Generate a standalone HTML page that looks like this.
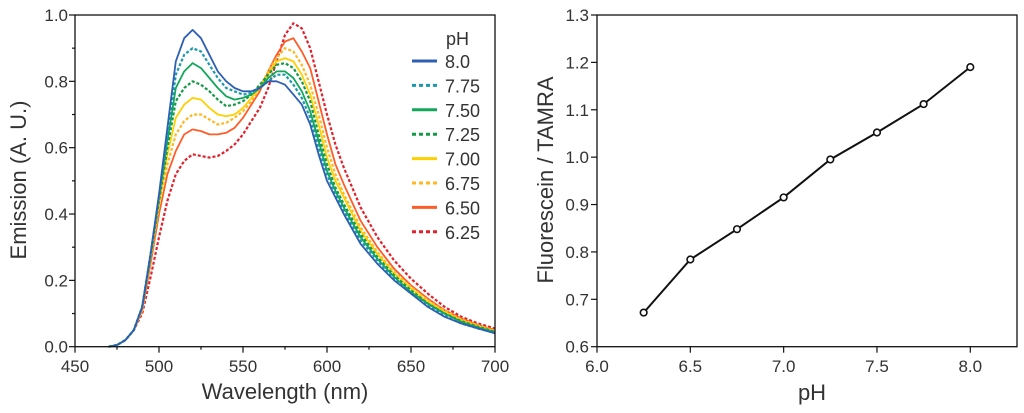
<!DOCTYPE html>
<html><head><meta charset="utf-8"><style>
body{margin:0;background:#fff;width:1024px;height:413px;overflow:hidden}
svg{display:block}
text{font-family:"Liberation Sans",sans-serif;fill:#333}
</style></head><body>
<svg id="svg" width="1024" height="413"></svg>
<script>
const wavelengths=[470,475,480,485,490,495,500,505,510,515,520,525,530,535,540,545,550,555,560,565,570,575,580,585,590,595,600,605,610,620,630,640,650,660,670,680,690,700];
const phLabels=["8.0","7.75","7.50","7.25","7.00","6.75","6.50","6.25"];
const s80=[0,.005,.02,.05,.12,.28,.46,.66,.86,.93,.955,.93,.88,.83,.80,.78,.77,.77,.78,.80,.80,.79,.76,.73,.67,.58,.50,.45,.40,.31,.25,.20,.16,.12,.09,.07,.055,.04];
const s775=[0,.005,.02,.05,.12,.28,.45,.64,.82,.88,.90,.89,.85,.81,.78,.77,.76,.765,.78,.80,.82,.82,.79,.75,.69,.60,.52,.46,.41,.32,.26,.205,.16,.125,.095,.07,.055,.042];
const s750=[0,.005,.02,.05,.12,.28,.45,.62,.78,.83,.855,.84,.81,.78,.755,.745,.75,.76,.78,.81,.83,.83,.81,.77,.71,.62,.53,.47,.42,.33,.265,.21,.165,.13,.10,.075,.058,.044];
const s725=[0,.005,.02,.05,.12,.27,.44,.60,.74,.78,.80,.79,.77,.745,.725,.73,.74,.76,.79,.82,.85,.855,.84,.80,.74,.64,.55,.48,.43,.34,.27,.215,.17,.13,.10,.077,.06,.045];
const s700=[0,.005,.02,.05,.12,.27,.43,.58,.69,.73,.75,.745,.72,.70,.695,.70,.72,.75,.78,.82,.86,.87,.86,.82,.76,.67,.57,.50,.45,.35,.28,.22,.175,.135,.105,.08,.062,.047];
const s675=[0,.005,.02,.05,.11,.26,.42,.55,.64,.68,.70,.70,.685,.67,.675,.69,.71,.74,.78,.83,.87,.90,.89,.85,.79,.70,.60,.52,.46,.36,.285,.225,.18,.14,.108,.082,.064,.048];
const s650=[0,.005,.02,.05,.11,.25,.40,.52,.59,.64,.655,.65,.64,.64,.645,.66,.69,.73,.77,.83,.88,.92,.93,.89,.84,.74,.64,.55,.49,.38,.30,.235,.185,.145,.11,.085,.066,.05];
const s625=[0,.005,.02,.05,.10,.21,.33,.44,.52,.56,.58,.575,.57,.575,.59,.61,.64,.68,.72,.78,.86,.94,.975,.96,.90,.80,.70,.61,.54,.42,.33,.26,.205,.16,.12,.09,.07,.055];
const phValues=[6.25,6.5,6.75,7.0,7.25,7.5,7.75,8.0];
const ratioValues=[0.672,0.784,0.848,0.915,0.995,1.052,1.112,1.19];
const leftXTicks=[450,500,550,600,650,700];
const leftYTicks=[0,0.2,0.4,0.6,0.8,1.0];
const rightXTicks=[6.0,6.5,7.0,7.5,8.0];
const rightYTicks=[0.6,0.7,0.8,0.9,1.0,1.1,1.2,1.3];

const svg=document.getElementById('svg');
const NS='http://www.w3.org/2000/svg';
function mk(tag,attrs,parent,txt){const e=document.createElementNS(NS,tag);for(const k in attrs)e.setAttribute(k,attrs[k]);if(txt!==undefined)e.textContent=txt;(parent||svg).appendChild(e);return e;}

// left axes
const lx=w=>75+(w-450)/250*420, ly=v=>346.7-v*331.7;
const series=[s80,s775,s750,s725,s700,s675,s650,s625];
const colors=["#2f5fb3","#1b9aa9","#12a75a","#139a45","#ffd000","#ffb722","#ff5c28","#e3202b"];
const dotted=[false,true,false,true,false,true,false,true];
let gL=mk('g',{});

for(let i=series.length-1;i>=0;i--){
  const d=series[i].map((v,j)=>(j?'L':'M')+lx(wavelengths[j]).toFixed(1)+','+ly(v).toFixed(1)).join('');
  const p=mk('path',{d:d,fill:'none',stroke:colors[i],'stroke-width':dotted[i]?2.2:1.8,'stroke-dasharray':dotted[i]?'3,2':'none','stroke-linejoin':'round'},gL);
  
  
}
const frameL=mk('rect',{x:75,y:15,width:420,height:331.7,fill:'none',stroke:'#111','stroke-width':1.3},gL);

for(let v=0;v<=1.0001;v+=0.1){const maj=Math.round(v*10)%2===0;mk('line',{x1:75,x2:75-(maj?6:3),y1:ly(v),y2:ly(v),stroke:'#111','stroke-width':1.2},gL);}
for(let w=450;w<=700;w+=25){const maj=w%50===0;mk('line',{x1:lx(w),x2:lx(w),y1:346.7,y2:346.7+(maj?6:3),stroke:'#111','stroke-width':1.2},gL);}
leftYTicks.forEach(v=>{const t=mk('text',{x:68,y:ly(v)+6,'text-anchor':'end','font-size':17},gL,v.toFixed(1));});
leftXTicks.forEach(v=>{const t=mk('text',{x:lx(v),y:372,'text-anchor':'middle','font-size':17},gL,String(v));});
let t=mk('text',{x:285,y:399,'text-anchor':'middle','font-size':22},gL,'Wavelength (nm)');
t=mk('text',{x:0,y:0,transform:'translate(26,180) rotate(-90)','text-anchor':'middle','font-size':22},gL,'Emission (A. U.)');
// legend
const lg=mk('g',{},gL);
t=mk('text',{x:446,y:45,'font-size':18},lg,'pH');
phLabels.forEach((l,i)=>{const y=61+i*24.4;
  const g=mk('g',{},lg);
  mk('line',{x1:412,x2:437,y1:y,y2:y,stroke:colors[i],'stroke-width':3,'stroke-dasharray':dotted[i]?'4,3':'none'},g);
  mk('text',{x:445,y:y+7,'font-size':18},g,l);});

// right axes
const rx=p=>597+(p-6)/2*373.3, ry=v=>346.7-(v-0.6)/0.7*331.7;
let gR=mk('g',{});

const frameR=mk('rect',{x:597,y:15,width:420,height:331.7,fill:'none',stroke:'#111','stroke-width':1.3},gR);

rightYTicks.forEach(v=>{mk('line',{x1:597,x2:591,y1:ry(v),y2:ry(v),stroke:'#111','stroke-width':1.2},gR);
  const tt=mk('text',{x:589,y:ry(v)+6,'text-anchor':'end','font-size':17},gR,v.toFixed(1));});
rightXTicks.forEach(v=>{mk('line',{x1:rx(v),x2:rx(v),y1:346.7,y2:352.7,stroke:'#111','stroke-width':1.2},gR);
  const tt=mk('text',{x:rx(v),y:372,'text-anchor':'middle','font-size':17},gR,v.toFixed(1));});
const ln=mk('path',{d:phValues.map((p,i)=>(i?'L':'M')+rx(p).toFixed(1)+','+ry(ratioValues[i]).toFixed(1)).join(''),fill:'none',stroke:'#111','stroke-width':2},gR);

phValues.forEach((p,i)=>{const c=mk('circle',{cx:rx(p),cy:ry(ratioValues[i]),r:3.3,fill:'#fff',stroke:'#111','stroke-width':1.6},gR);
  });
t=mk('text',{x:812,y:400,'text-anchor':'middle','font-size':22},gR,'pH');
t=mk('text',{x:0,y:0,transform:'translate(553,180) rotate(-90)','text-anchor':'middle','font-size':22},gR,'Fluorescein / TAMRA');
</script>
</body></html>
